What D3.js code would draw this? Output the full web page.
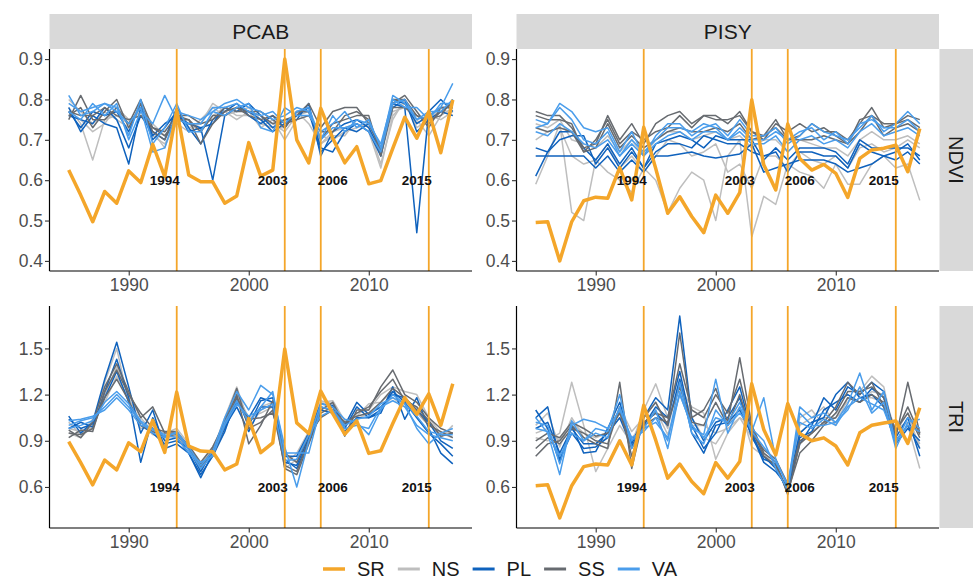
<!DOCTYPE html>
<html lang="en">
<head>
<meta charset="utf-8">
<title>NDVI / TRI</title>
<script src="https://cdn.jsdelivr.net/npm/d3@7"></script>
<style>
  body { margin: 0; background: #fff; }
  svg text { font-family: "Liberation Sans", Arial, sans-serif; }
</style>
</head>
<body>
<script>

var years = d3.range(1985, 2018);
var species = ["PCAB", "PISY"];
var indices = ["NDVI", "TRI"];
var groups = ["SR", "NS", "PL", "SS", "VA"];
var groupColors = ["#F4A62A", "#BEBEBE", "#0F62BD", "#676B70", "#4A9DEB"];
var events = [1994, 2003, 2006, 2015];
var eventLabelYear = [1993, 2002, 2007, 2014];
var ndviTicks = [0.4, 0.5, 0.6, 0.7, 0.8, 0.9];
var triTicks = [0.6, 0.9, 1.2, 1.5];
var yearTicks = [1990, 2000, 2010];

// PCAB NDVI
var pcabNdviSR = [0.625,0.563,0.497,0.572,0.543,0.623,0.594,0.689,0.609,0.774,0.613,0.596,0.596,0.543,0.561,0.693,0.610,0.625,0.900,0.700,0.643,0.778,0.704,0.643,0.683,0.591,0.599,0.679,0.756,0.704,0.770,0.668,0.799];
var pcabNdviNS = [
  [0.78,0.74,0.65,0.75,0.76,0.74,0.77,0.71,0.69,0.74,0.72,0.75,0.78,0.76,0.77,0.78,0.75,0.74,0.72,0.76,0.77,0.69,0.72,0.73,0.74,0.72,0.63,0.76,0.79,0.74,0.76,0.75,0.77],
  [0.76,0.75,0.72,0.74,0.78,0.75,0.76,0.72,0.68,0.76,0.73,0.74,0.79,0.77,0.75,0.77,0.73,0.75,0.70,0.75,0.76,0.71,0.70,0.72,0.73,0.74,0.66,0.77,0.78,0.75,0.71,0.76,0.78],
  [0.80,0.77,0.74,0.77,0.75,0.73,0.78,0.74,0.71,0.75,0.74,0.72,0.76,0.78,0.76,0.76,0.74,0.73,0.73,0.77,0.74,0.69,0.71,0.71,0.75,0.73,0.64,0.75,0.80,0.73,0.75,0.78,0.76]
];
var pcabNdviPL = [
  [0.78,0.72,0.76,0.74,0.73,0.64,0.78,0.70,0.73,0.77,0.72,0.73,0.60,0.76,0.78,0.77,0.75,0.72,0.74,0.76,0.78,0.68,0.67,0.72,0.74,0.72,0.66,0.79,0.78,0.47,0.77,0.80,0.77],
  [0.76,0.75,0.74,0.78,0.75,0.68,0.76,0.72,0.70,0.78,0.73,0.69,0.75,0.77,0.79,0.76,0.74,0.76,0.73,0.77,0.77,0.67,0.70,0.73,0.72,0.74,0.68,0.78,0.80,0.72,0.75,0.77,0.76],
  [0.77,0.73,0.77,0.76,0.77,0.72,0.79,0.71,0.74,0.76,0.74,0.73,0.74,0.78,0.77,0.79,0.76,0.73,0.75,0.75,0.79,0.66,0.72,0.74,0.75,0.73,0.67,0.80,0.79,0.74,0.76,0.78,0.78]
];
var pcabNdviSS = [
  [0.76,0.78,0.73,0.77,0.80,0.73,0.79,0.72,0.70,0.76,0.75,0.69,0.74,0.77,0.78,0.77,0.76,0.74,0.75,0.76,0.79,0.73,0.77,0.78,0.78,0.74,0.68,0.80,0.80,0.76,0.74,0.77,0.79],
  [0.75,0.81,0.75,0.75,0.78,0.74,0.80,0.73,0.72,0.76,0.76,0.74,0.75,0.78,0.77,0.77,0.77,0.75,0.73,0.77,0.77,0.70,0.74,0.75,0.76,0.76,0.66,0.79,0.81,0.77,0.73,0.78,0.78],
  [0.77,0.76,0.76,0.78,0.76,0.75,0.76,0.73,0.71,0.75,0.75,0.72,0.76,0.76,0.78,0.76,0.75,0.76,0.74,0.75,0.76,0.72,0.72,0.76,0.77,0.75,0.67,0.78,0.78,0.76,0.75,0.76,0.80]
];
var pcabNdviVA = [
  [0.81,0.76,0.77,0.79,0.78,0.71,0.80,0.69,0.73,0.79,0.72,0.72,0.77,0.79,0.80,0.78,0.77,0.75,0.76,0.78,0.77,0.70,0.76,0.72,0.75,0.74,0.69,0.80,0.78,0.78,0.75,0.79,0.79],
  [0.79,0.77,0.78,0.79,0.77,0.74,0.78,0.67,0.68,0.77,0.76,0.75,0.77,0.76,0.78,0.79,0.73,0.72,0.78,0.76,0.76,0.72,0.74,0.77,0.73,0.75,0.68,0.81,0.79,0.75,0.76,0.78,0.84],
  [0.77,0.75,0.79,0.76,0.79,0.70,0.77,0.74,0.81,0.75,0.74,0.74,0.78,0.78,0.79,0.77,0.76,0.77,0.74,0.77,0.78,0.70,0.73,0.73,0.74,0.72,0.67,0.79,0.80,0.75,0.77,0.77,0.80]
];

// PISY NDVI
var pisyNdviSR = [0.495,0.497,0.400,0.497,0.549,0.558,0.555,0.631,0.551,0.731,0.629,0.518,0.559,0.510,0.470,0.563,0.518,0.569,0.799,0.638,0.576,0.739,0.654,0.625,0.639,0.617,0.557,0.654,0.675,0.679,0.687,0.621,0.728];
var pisyNdviNS = [
  [0.59,0.66,0.74,0.52,0.50,0.65,0.62,0.60,0.57,0.63,0.60,0.52,0.58,0.62,0.60,0.50,0.66,0.70,0.46,0.56,0.54,0.64,0.62,0.61,0.58,0.64,0.59,0.59,0.64,0.66,0.63,0.64,0.55],
  [0.70,0.72,0.73,0.66,0.64,0.65,0.69,0.63,0.66,0.62,0.66,0.70,0.69,0.66,0.67,0.69,0.62,0.64,0.58,0.66,0.66,0.63,0.67,0.65,0.64,0.66,0.63,0.68,0.69,0.67,0.68,0.70,0.68],
  [0.74,0.73,0.75,0.70,0.69,0.68,0.71,0.67,0.70,0.66,0.70,0.72,0.72,0.70,0.71,0.72,0.70,0.71,0.68,0.70,0.70,0.67,0.70,0.69,0.68,0.68,0.66,0.70,0.72,0.70,0.70,0.71,0.69]
];
var pisyNdviPL = [
  [0.66,0.66,0.66,0.66,0.66,0.63,0.66,0.62,0.65,0.62,0.66,0.66,0.665,0.67,0.66,0.655,0.66,0.665,0.69,0.62,0.63,0.64,0.65,0.65,0.65,0.64,0.62,0.63,0.64,0.66,0.65,0.67,0.64],
  [0.61,0.67,0.70,0.71,0.71,0.64,0.68,0.63,0.67,0.63,0.67,0.69,0.69,0.68,0.71,0.70,0.69,0.69,0.67,0.66,0.67,0.62,0.67,0.67,0.66,0.66,0.63,0.69,0.67,0.66,0.67,0.69,0.65],
  [0.68,0.67,0.72,0.72,0.68,0.65,0.69,0.64,0.68,0.63,0.69,0.70,0.71,0.70,0.68,0.71,0.70,0.70,0.70,0.65,0.68,0.65,0.68,0.68,0.68,0.67,0.64,0.70,0.68,0.68,0.68,0.68,0.66]
];
var pisyNdviSS = [
  [0.77,0.76,0.76,0.73,0.68,0.69,0.76,0.70,0.74,0.69,0.74,0.76,0.77,0.74,0.76,0.76,0.74,0.77,0.72,0.71,0.75,0.70,0.71,0.74,0.72,0.72,0.70,0.74,0.78,0.73,0.74,0.76,0.75],
  [0.76,0.75,0.75,0.74,0.67,0.70,0.75,0.69,0.72,0.70,0.72,0.73,0.76,0.73,0.76,0.75,0.75,0.76,0.72,0.70,0.74,0.72,0.74,0.72,0.73,0.71,0.69,0.75,0.76,0.74,0.74,0.75,0.73],
  [0.73,0.72,0.73,0.72,0.67,0.68,0.74,0.68,0.71,0.68,0.70,0.72,0.73,0.72,0.72,0.73,0.72,0.74,0.70,0.71,0.73,0.70,0.70,0.70,0.71,0.70,0.69,0.72,0.76,0.71,0.73,0.74,0.72]
];
var pisyNdviVA = [
  [0.75,0.74,0.79,0.77,0.73,0.72,0.73,0.67,0.72,0.66,0.71,0.74,0.74,0.71,0.73,0.74,0.71,0.75,0.71,0.71,0.73,0.69,0.71,0.74,0.72,0.71,0.70,0.73,0.76,0.72,0.74,0.77,0.74],
  [0.73,0.74,0.78,0.75,0.70,0.69,0.72,0.66,0.70,0.67,0.70,0.73,0.73,0.72,0.74,0.73,0.70,0.73,0.70,0.70,0.72,0.70,0.72,0.73,0.70,0.72,0.69,0.74,0.75,0.73,0.73,0.75,0.72],
  [0.72,0.71,0.74,0.72,0.69,0.68,0.70,0.66,0.69,0.66,0.69,0.71,0.72,0.70,0.72,0.72,0.70,0.72,0.69,0.69,0.71,0.67,0.70,0.71,0.69,0.70,0.68,0.72,0.74,0.71,0.72,0.73,0.71]
];

// PCAB TRI
var pcabTriSR = [0.894,0.758,0.614,0.775,0.711,0.887,0.829,1.033,0.825,1.216,0.866,0.833,0.829,0.711,0.749,1.044,0.823,0.887,1.496,1.016,0.947,1.223,1.076,0.943,1.029,0.818,0.835,1.012,1.180,1.072,1.205,1.001,1.270];
var pcabTriNS = [
  [0.95,0.92,1.00,1.28,1.50,1.15,0.98,1.00,0.92,0.96,0.85,0.70,0.84,1.05,1.25,1.02,1.12,1.15,0.72,0.78,0.95,1.16,1.14,1.00,1.08,1.10,1.20,1.25,1.22,1.20,1.05,0.95,0.92],
  [0.98,0.96,0.98,1.20,1.38,1.20,1.05,0.96,0.95,0.98,0.88,0.74,0.86,1.00,1.22,0.98,1.10,1.14,0.74,0.82,0.96,1.15,1.16,1.03,1.06,1.14,1.15,1.22,1.16,1.12,1.03,0.92,1.00],
  [1.02,0.94,1.04,1.15,1.32,1.18,1.02,0.94,0.92,0.93,0.84,0.72,0.82,0.96,1.20,1.05,1.08,1.12,0.80,0.76,0.92,1.12,1.09,1.02,1.04,1.08,1.12,1.18,1.12,1.08,1.00,0.95,0.95]
];
var pcabTriPL = [
  [1.06,0.95,1.02,1.30,1.54,1.25,0.95,1.10,0.85,0.88,0.82,0.66,0.82,0.98,1.15,1.05,1.18,1.15,0.76,0.74,0.92,1.12,1.10,0.98,1.12,1.05,1.08,1.25,1.04,1.18,0.98,0.82,0.75],
  [0.98,1.02,0.99,1.22,1.43,1.18,0.76,1.05,0.90,0.92,0.82,0.68,0.80,0.96,1.18,1.00,1.16,1.18,0.80,0.80,0.95,1.14,1.13,1.00,1.15,1.07,1.12,1.20,1.18,1.10,1.02,0.90,0.85],
  [1.04,0.98,1.01,1.18,1.35,1.15,1.00,0.95,0.88,0.90,0.85,0.70,0.84,0.99,1.12,0.96,1.12,1.12,0.78,0.72,0.90,1.10,1.08,0.96,1.05,1.05,1.10,1.22,1.15,1.05,0.95,0.88,0.80]
];
var pcabTriSS = [
  [0.97,0.92,1.02,1.25,1.40,1.22,1.05,1.12,0.95,0.95,0.87,0.76,0.86,1.02,1.20,0.88,1.00,1.16,0.72,0.68,0.88,1.08,1.12,0.93,1.10,1.10,1.25,1.36,1.20,1.15,1.05,0.98,0.95],
  [0.92,0.97,0.96,1.22,1.36,1.20,1.08,0.98,0.96,0.96,0.86,0.73,0.84,1.03,1.24,0.98,1.02,1.10,0.74,0.70,0.90,1.10,1.15,1.00,1.08,1.12,1.22,1.30,1.16,1.12,1.03,0.93,0.95],
  [0.95,0.94,0.98,1.18,1.30,1.16,1.00,0.96,0.93,0.94,0.85,0.75,0.80,1.00,1.18,1.04,1.05,1.08,0.82,0.76,0.94,1.05,1.10,1.02,1.06,1.08,1.15,1.24,1.18,1.10,1.00,0.96,0.92]
];
var pcabTriVA = [
  [1.00,1.03,1.05,1.12,1.20,1.12,1.02,0.95,0.92,0.96,0.86,0.74,0.83,1.05,1.22,1.10,1.26,1.20,0.86,0.60,0.90,1.14,1.12,1.04,1.02,0.94,1.10,1.20,1.14,0.98,0.88,0.95,0.98],
  [1.03,1.04,1.06,1.10,1.18,1.10,1.00,0.98,0.94,0.92,0.82,0.76,0.80,1.02,1.16,1.02,1.12,1.22,0.82,0.82,0.82,1.12,1.10,0.98,1.00,0.98,1.12,1.16,1.12,1.00,0.94,0.92,0.90],
  [0.98,1.00,1.03,1.15,1.22,1.14,1.03,0.97,0.93,0.95,0.84,0.72,0.81,1.00,1.14,1.06,1.10,1.14,0.77,0.78,0.94,1.06,1.10,1.00,1.04,1.06,1.14,1.18,1.14,1.06,0.96,0.94,0.94]
];

// PISY TRI
var pisyTriSR = [0.608,0.614,0.399,0.608,0.732,0.749,0.743,0.900,0.743,1.130,0.904,0.657,0.749,0.635,0.556,0.758,0.657,0.765,1.270,0.973,0.808,1.141,0.947,0.900,0.919,0.866,0.743,0.952,1.001,1.016,1.029,0.883,1.115];
var pisyTriNS = [
  [0.92,0.90,0.95,1.28,1.00,0.70,0.85,1.00,0.88,1.10,1.27,1.05,1.25,1.12,1.08,0.78,0.95,1.05,1.00,0.82,0.72,0.62,1.05,1.10,1.00,1.08,1.15,1.22,1.32,1.25,0.90,1.00,0.72],
  [1.00,1.08,0.86,1.05,0.92,0.88,0.92,1.12,0.96,1.05,1.15,0.98,1.30,1.05,0.92,0.88,1.00,1.12,0.86,0.80,0.74,0.58,1.00,1.05,1.12,1.00,1.18,1.15,1.22,1.20,0.96,1.08,0.85],
  [0.95,0.98,0.90,1.02,0.95,0.92,0.95,1.05,0.92,1.00,1.10,0.94,1.20,1.00,1.00,0.95,0.98,1.05,0.92,0.85,0.78,0.60,0.95,1.02,1.05,1.05,1.12,1.18,1.18,1.15,0.98,1.02,0.88]
];
var pisyTriPL = [
  [1.10,0.98,0.76,1.00,0.82,0.83,0.98,1.15,0.88,1.05,1.18,1.10,1.71,1.05,0.90,1.02,1.05,1.18,0.92,0.80,0.72,0.58,0.88,1.00,1.18,1.10,1.25,1.20,1.28,1.22,0.92,1.05,0.80],
  [1.05,1.12,0.78,0.95,0.85,0.86,0.92,1.10,0.90,1.00,1.12,1.05,1.35,1.00,0.85,0.95,1.10,1.25,0.95,0.78,0.75,0.56,0.92,0.96,1.10,1.15,1.20,1.15,1.24,1.18,0.90,1.00,0.85],
  [0.98,1.02,0.82,0.98,0.88,0.88,0.95,1.05,0.86,1.02,1.08,1.00,1.30,0.95,0.82,1.00,1.02,1.10,0.94,0.76,0.70,0.60,0.95,1.02,1.05,1.20,1.28,1.18,1.20,1.12,0.88,0.98,0.90]
];
var pisyTriSS = [
  [0.80,0.88,0.90,1.00,0.92,0.88,0.85,1.28,0.72,1.05,1.15,1.00,1.60,1.05,1.10,1.24,1.02,1.44,1.00,0.82,0.76,0.55,0.88,0.95,1.02,1.12,1.28,1.20,1.28,1.12,0.92,1.28,0.95],
  [0.85,0.92,0.88,0.98,0.95,0.90,0.88,1.12,0.80,1.02,1.08,1.05,1.40,1.10,1.05,1.20,1.08,1.30,0.98,0.80,0.74,0.57,0.82,0.90,1.00,1.08,1.22,1.22,1.25,1.18,0.95,1.12,0.94],
  [0.90,0.95,0.92,1.02,0.98,0.93,0.95,1.08,0.85,1.00,1.05,1.02,1.25,1.02,1.00,1.15,1.00,1.20,0.95,0.84,0.78,0.62,0.90,0.95,1.02,1.05,1.18,1.15,1.20,1.15,0.97,1.08,0.92]
];
var pisyTriVA = [
  [1.05,0.95,0.68,1.03,0.90,0.98,0.96,1.20,0.85,0.98,1.10,0.85,1.22,0.98,0.94,1.30,0.95,1.12,0.96,1.18,0.78,0.60,1.12,1.05,1.08,1.02,1.14,1.34,1.10,1.22,0.88,1.05,0.98],
  [1.02,1.00,0.75,1.00,1.04,1.02,0.98,1.10,0.92,0.96,1.05,0.90,1.28,0.95,0.88,1.10,1.00,1.08,0.98,0.90,0.72,0.58,1.08,1.00,1.00,1.02,1.10,1.25,1.08,1.15,0.85,1.02,1.04],
  [0.98,0.96,0.80,0.95,0.90,0.95,0.92,1.12,0.90,0.98,1.02,0.92,1.20,1.00,0.92,1.05,1.02,1.15,0.96,0.86,0.76,0.62,1.02,0.98,1.04,1.00,1.12,1.18,1.14,1.10,0.90,1.00,0.96]
];

var panels = [
  {sp: "PCAB", ix: "NDVI", col: 0, row: 0, SR: pcabNdviSR, NS: pcabNdviNS, PL: pcabNdviPL, SS: pcabNdviSS, VA: pcabNdviVA},
  {sp: "PISY", ix: "NDVI", col: 1, row: 0, SR: pisyNdviSR, NS: pisyNdviNS, PL: pisyNdviPL, SS: pisyNdviSS, VA: pisyNdviVA},
  {sp: "PCAB", ix: "TRI", col: 0, row: 1, SR: pcabTriSR, NS: pcabTriNS, PL: pcabTriPL, SS: pcabTriSS, VA: pcabTriVA},
  {sp: "PISY", ix: "TRI", col: 1, row: 1, SR: pisyTriSR, NS: pisyTriNS, PL: pisyTriPL, SS: pisyTriSS, VA: pisyTriVA}
];

var W = 973, H = 580;
var colX = [49.5, 516.5], pw = 422.5;
var rowY = [49, 306], ph = 222;

var svg = d3.select("body").append("svg").attr("width", W).attr("height", H);

var color = d3.scaleOrdinal().domain(groups).range(groupColors);

var x = d3.scaleLinear().domain([1983.4, 2018.6]).range([0, pw]);

// one y scale per row, 5% padding like ggplot
function rowScale(ix) {
  var all = [];
  panels.filter(function(p) { return p.ix == ix; }).forEach(function(p) {
    groups.forEach(function(g) {
      if (g == "SR") all = all.concat(p.SR);
      else p[g].forEach(function(s) { all = all.concat(s); });
    });
  });
  var ext = d3.extent(all), pad = (ext[1] - ext[0]) * 0.05;
  return d3.scaleLinear().domain([ext[0] - pad, ext[1] + pad]).range([ph, 0]);
}
var yScales = {NDVI: rowScale("NDVI"), TRI: rowScale("TRI")};
var yTicks = {NDVI: ndviTicks, TRI: triTicks};

// strips
species.forEach(function(sp, i) {
  svg.append("rect").attr("x", colX[i]).attr("y", 14).attr("width", pw).attr("height", 35).attr("fill", "#D9D9D9");
  svg.append("text").attr("x", colX[i] + pw / 2).attr("y", 39).attr("text-anchor", "middle")
    .attr("font-size", 21).attr("fill", "#1A1A1A").text(sp);
});
indices.forEach(function(ix, i) {
  svg.append("rect").attr("x", 939.5).attr("y", rowY[i]).attr("width", 34).attr("height", ph).attr("fill", "#D9D9D9");
  svg.append("text").attr("transform", "translate(949," + (rowY[i] + ph / 2) + ") rotate(90)")
    .attr("text-anchor", "middle").attr("font-size", 20).attr("fill", "#1A1A1A").text(ix);
});

var line = d3.line();

panels.forEach(function(p) {
  var y = yScales[p.ix];
  var g = svg.append("g").attr("transform", "translate(" + colX[p.col] + "," + rowY[p.row] + ")");
  line.x(function(d, i) { return x(years[i]); }).y(function(d) { return y(d); });

  ["NS", "PL", "SS", "VA"].forEach(function(grp) {
    g.selectAll("path." + grp).data(p[grp]).enter().append("path")
      .attr("class", grp)
      .attr("d", line)
      .attr("fill", "none")
      .attr("stroke", color(grp))
      .attr("stroke-width", 1.5)
      .attr("stroke-linejoin", "round");
  });

  g.selectAll("line.ev").data(events).enter().append("line")
    .attr("class", "ev")
    .attr("x1", function(d) { return x(d); }).attr("x2", function(d) { return x(d); })
    .attr("y1", 0).attr("y2", ph)
    .attr("stroke", color("SR")).attr("stroke-width", 1.8);

  g.append("path").datum(p.SR)
    .attr("d", line)
    .attr("fill", "none")
    .attr("stroke", color("SR"))
    .attr("stroke-width", 3.5)
    .attr("stroke-linejoin", "round");

  g.selectAll("text.ev").data(events).enter().append("text")
    .attr("class", "ev")
    .attr("x", function(d, i) { return x(eventLabelYear[i]); })
    .attr("y", y(0.6) + 5)
    .attr("text-anchor", "middle")
    .attr("font-size", 13.5).attr("font-weight", "bold").attr("fill", "#111")
    .text(function(d) { return d; });

  var ax = g.append("g").call(d3.axisLeft(y).tickValues(yTicks[p.ix]).tickFormat(d3.format(".1f")).tickSize(4.5).tickPadding(2));
  var bx = g.append("g").attr("transform", "translate(0," + ph + ")")
    .call(d3.axisBottom(x).tickValues(yearTicks).tickFormat(d3.format("d")).tickSize(4.5).tickPadding(3));
  [ax, bx].forEach(function(a) {
    a.select(".domain").attr("stroke", "#000").attr("stroke-width", 1.2);
    a.selectAll(".tick line").attr("stroke", "#333").attr("stroke-width", 1.1);
    a.selectAll(".tick text").attr("fill", "#4D4D4D").attr("font-size", 17.5)
      .attr("font-family", "Liberation Sans, Arial, sans-serif");
  });
  ax.select(".domain").attr("d", "M0," + ph + "V0");
  bx.select(".domain").attr("d", "M0,0H" + pw);
});

// legend
var leg = svg.append("g");
var lx = 0;
groups.forEach(function(grp) {
  var it = leg.append("g").attr("transform", "translate(" + lx + ",0)");
  it.append("line").attr("x1", 0).attr("x2", 22).attr("y1", 0).attr("y2", 0)
    .attr("stroke", color(grp)).attr("stroke-width", grp == "SR" ? 3.5 : 3);
  var t = it.append("text").attr("x", 34).attr("y", 7).attr("font-size", 20).attr("fill", "#1A1A1A").text(grp);
  lx += 34 + t.node().getComputedTextLength() + 13;
});
var legW = lx - 13;
leg.attr("transform", "translate(" + (500 - legW / 2) + ",569)");

</script>
</body>
</html>
